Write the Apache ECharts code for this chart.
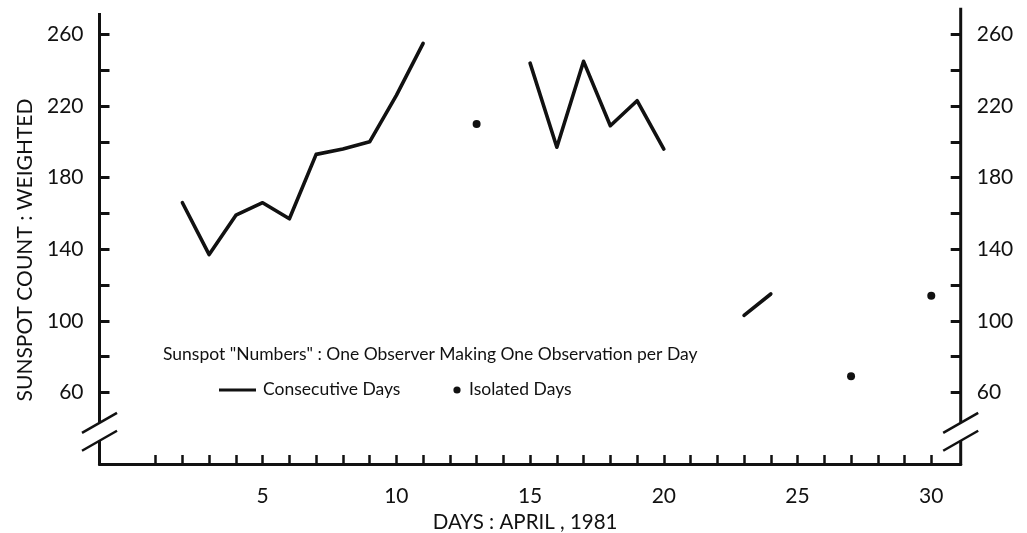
<!DOCTYPE html>
<html><head><meta charset="utf-8">
<script src="https://cdn.jsdelivr.net/npm/echarts@6/dist/echarts.min.js"></script>
<style>html,body{margin:0;padding:0;background:#fff}#c{width:1027px;height:533px}</style>
</head><body><div id="c"></div>
<script>
// ---- data ----
const days = [1,2,3,4,5,6,7,8,9,10,11,12,13,14,15,16,17,18,19,20,21,22,23,24,25,26,27,28,29,30];
const consecutive = [null,166,137,159,166,157,193,196,200,226,255,null,null,null,244,197,245,209,223,196,null,null,103,115,null,null,null,null,null,null];
const isolated = [null,null,null,null,null,null,null,null,null,null,null,null,210,null,null,null,null,null,null,null,null,null,null,null,null,null,69,null,null,114];
const xTickValues = days;
const xLabelValues = [5,10,15,20,25,30];
const yTickValues = [60,80,100,120,140,160,180,200,220,240,260];
const yLabelValues = [60,100,140,180,220,260];
const headerText = 'Sunspot "Numbers" : One Observer Making One Observation per Day';
const legendLine = 'Consecutive Days';
const legendDot = 'Isolated Days';
const yName = 'SUNSPOT COUNT : WEIGHTED';
const xName = 'DAYS : APRIL , 1981';

// ---- axis layout values ----
const X_MIN = -1.1, X_MAX = 31.1, Y_MIN = 20, Y_MAX = 272;
const BREAK_HI = 43, BREAK_LO = 33, RIGHT_TOP = 275;

const FONT = 'Lato';
const ink = '#111';

const lineData = days.map((d, i) => [d, consecutive[i] === null ? '-' : consecutive[i]]);
const dotData = days.map((d, i) => [d, isolated[i]]).filter(p => p[1] !== null);

const chart = echarts.init(document.getElementById('c'), null, {renderer: 'canvas'});

function yAxisCfg(pos) {
  return {
    type: 'value', position: pos, min: Y_MIN, max: Y_MAX,
    axisLine: {show: false, onZero: false},
    splitLine: {show: false},
    axisTick: {show: true, inside: true, length: 10, customValues: yTickValues, lineStyle: {color: ink, width: 3}},
    axisLabel: {show: true, customValues: yLabelValues, margin: 16, color: ink, fontFamily: FONT, fontSize: 21},
    name: pos === 'left' ? yName : '',
    nameLocation: 'middle', nameGap: 62, nameRotate: 90,
    nameTextStyle: {color: ink, fontFamily: FONT, fontSize: 21, padding: [0, 23, 0, 0]}
  };
}

const option = {
  backgroundColor: '#fff',
  animation: false,
  grid: {left: 99.5, right: 66.3, top: 13, bottom: 69, containLabel: false, outerBoundsMode: 'none'},
  xAxis: {
    type: 'value', min: X_MIN, max: X_MAX,
    axisLine: {show: true, onZero: false, lineStyle: {color: ink, width: 3}},
    splitLine: {show: false},
    axisTick: {show: true, inside: true, length: 9, customValues: xTickValues, lineStyle: {color: ink, width: 2.5}},
    axisLabel: {show: true, customValues: xLabelValues, margin: 22, color: ink, fontFamily: FONT, fontSize: 21},
    name: xName, nameLocation: 'middle', nameGap: 47,
    nameTextStyle: {color: ink, fontFamily: FONT, fontSize: 20.5, padding: [0, 10, 0, 0]}
  },
  yAxis: [yAxisCfg('left'), yAxisCfg('right')],
  series: [
    {
      name: legendLine, type: 'line', data: lineData, connectNulls: false,
      showSymbol: false, symbol: 'none',
      lineStyle: {color: ink, width: 3.6, cap: 'round', join: 'round'}
    },
    {
      name: legendDot, type: 'scatter', data: dotData, symbol: 'circle', symbolSize: 8,
      itemStyle: {color: ink, opacity: 1}
    },
    {
      name: 'axisFrame', type: 'custom', clip: false, silent: true,
      data: [[X_MIN, Y_MIN]],
      renderItem: function (params, api) {
        const st = {stroke: ink, lineWidth: 3, fill: null};
        const sl = {stroke: ink, lineWidth: 2.5, fill: null};
        const seg = (a, b, s) => ({type: 'line', shape: {x1: a[0], y1: a[1], x2: b[0], y2: b[1]}, style: s});
        const slash = (p) => seg([p[0] - 17.5, p[1] + 10], [p[0] + 17.5, p[1] - 10], sl);
        const lTop = api.coord([X_MIN, Y_MAX]);
        const lHi = api.coord([X_MIN, BREAK_HI]);
        const lLo = api.coord([X_MIN, BREAK_LO]);
        const lBot = api.coord([X_MIN, Y_MIN]);
        const rTop = api.coord([X_MAX, RIGHT_TOP]);
        const rHi = api.coord([X_MAX, BREAK_HI]);
        const rLo = api.coord([X_MAX, BREAK_LO]);
        const rBot = api.coord([X_MAX, Y_MIN]);
        return {type: 'group', children: [
          seg(lTop, lHi, st), seg(lLo, [lBot[0], lBot[1] + 1.5], st),
          seg(rTop, rHi, st), seg(rLo, [rBot[0], rBot[1] + 1.5], st),
          slash(lHi), slash(lLo), slash(rHi), slash(rLo)
        ]};
      }
    }
  ],
  graphic: [
    {type: 'text', left: 163, top: 345, style: {text: headerText, fill: ink, font: '17.5px ' + FONT}},
    {type: 'line', shape: {x1: 219, y1: 390, x2: 256, y2: 390}, style: {stroke: ink, lineWidth: 3}},
    {type: 'text', left: 263, top: 380, style: {text: legendLine, fill: ink, font: '17.5px ' + FONT}},
    {type: 'circle', shape: {cx: 457, cy: 390, r: 3.6}, style: {fill: ink}},
    {type: 'text', left: 469, top: 380, style: {text: legendDot, fill: ink, font: '17.5px ' + FONT}}
  ]
};
chart.setOption(option);
</script></body></html>
